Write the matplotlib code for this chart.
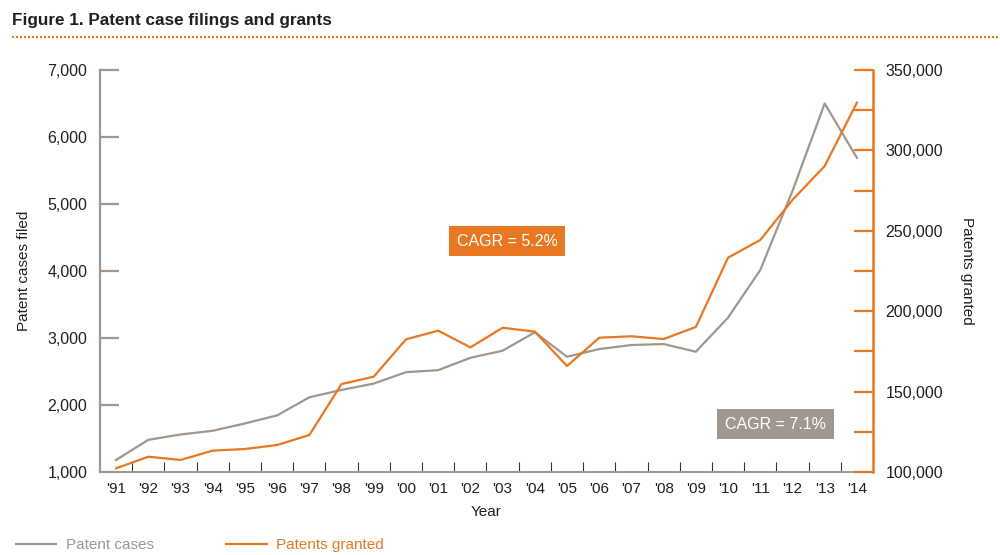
import matplotlib
matplotlib.use("Agg")
import matplotlib.pyplot as plt
from matplotlib.lines import Line2D

plt.rcParams['font.family'] = ['Liberation Sans', 'DejaVu Sans']

years = ["'91", "'92", "'93", "'94", "'95", "'96", "'97", "'98", "'99", "'00", "'01", "'02",
         "'03", "'04", "'05", "'06", "'07", "'08", "'09", "'10", "'11", "'12", "'13", "'14"]
cases_filed = [1180, 1480, 1560, 1615, 1725, 1845, 2115, 2225, 2320, 2490, 2520, 2705,
               2810, 3085, 2720, 2835, 2895, 2910, 2795, 3305, 4015, 5195, 6500, 5690]
patents_granted = [102300, 109500, 107500, 113300, 114300, 116800, 123000, 154700, 159300,
                   182500, 187900, 177500, 189700, 187300, 165900, 183500, 184400, 182700,
                   190200, 233300, 244300, 269200, 290300, 329700]
left_ticks = [1000, 2000, 3000, 4000, 5000, 6000, 7000]
right_ticks = [100000, 125000, 150000, 175000, 200000, 225000, 250000, 275000, 300000, 325000, 350000]
cagr_cases = "CAGR = 7.1%"
cagr_grants = "CAGR = 5.2%"

GRAY = '#a0978f'
ORANGE = '#e87722'
DARK = '#231f20'

fig = plt.figure(figsize=(10, 5.55), dpi=100)
ax = fig.add_axes([0.100, 1 - 472 / 555, 0.773, 402 / 555])
ax2 = ax.twinx()

x = list(range(len(years)))
ax.plot(x, cases_filed, color=GRAY, lw=1.6, zorder=3)
ax2.plot(x, patents_granted, color=ORANGE, lw=1.6, zorder=3)

ax.set_xlim(-0.5, len(years) - 0.5)
ax.set_ylim(1000, 7000)
ax2.set_ylim(100000, 350000)

# spines
for s in ['top', 'right']:
    ax.spines[s].set_visible(False)
ax.spines['left'].set_color(GRAY)
ax.spines['left'].set_linewidth(1.6)
ax.spines['bottom'].set_color(GRAY)
ax.spines['bottom'].set_linewidth(1.4)
for s in ['top', 'left', 'bottom']:
    ax2.spines[s].set_visible(False)
ax2.spines['right'].set_color(ORANGE)
ax2.spines['right'].set_linewidth(1.8)

# x ticks
ax.set_xticks(x)
ax.set_xticklabels(years, fontsize=11, color=DARK)
ax.tick_params(axis='x', which='major', length=0, pad=7.5)
ax.set_xticks([i + 0.5 for i in x[:-1]], minor=True)
ax.tick_params(axis='x', which='minor', direction='in', length=7.5, width=0.8, color='#333333')

# left y ticks
ax.set_yticks(left_ticks)
ax.set_yticklabels([f"{v:,}" for v in left_ticks], fontsize=11.5, color=DARK)
ax.tick_params(axis='y', direction='in', length=14, width=1.6, color=GRAY, pad=9)

# right y ticks
ax2.set_yticks(right_ticks)
ax2.set_yticklabels([f"{v:,}" if v % 50000 == 0 else "" for v in right_ticks],
                    fontsize=11.5, color=DARK)
ax2.tick_params(axis='y', direction='in', length=14, width=1.6, color=ORANGE, pad=9)

ax.set_ylabel("Patent cases filed", fontsize=11, color=DARK, labelpad=12)
ax2.set_ylabel("Patents granted", fontsize=11, color=DARK, rotation=270, labelpad=22)
ax.set_xlabel("Year", fontsize=11, color=DARK, labelpad=6)

# CAGR boxes
ax.text(0.5265, 0.5746, cagr_grants, transform=ax.transAxes, ha='center', va='center',
        fontsize=11.5, color='white',
        bbox=dict(boxstyle='square,pad=0.5', fc=ORANGE, ec='none'))
ax.text(0.8738, 0.1194, cagr_cases, transform=ax.transAxes, ha='center', va='center',
        fontsize=11.5, color='white',
        bbox=dict(boxstyle='square,pad=0.5', fc=GRAY, ec='none'))

# title
fig.text(0.012, 1 - 21 / 555, "Figure 1. Patent case filings and grants", fontsize=12.3,
         fontweight='bold', color=DARK, ha='left', va='center')
fig.add_artist(Line2D([0.012, 1.0], [1 - 37 / 555, 1 - 37 / 555], transform=fig.transFigure,
                      color=ORANGE, lw=1.6, ls=(0, (0.9, 0.9))))

# legend
handles = [Line2D([], [], color=GRAY, lw=1.6), Line2D([], [], color=ORANGE, lw=1.6)]
fig.legend(handles, ["Patent cases", "Patents granted"], loc='center left',
           bbox_to_anchor=(0.016, 1 - 545 / 555), ncol=2, frameon=False, fontsize=11,
           handlelength=2.65, handletextpad=0.6, columnspacing=4.75, borderpad=0,
           borderaxespad=0, labelcolor='linecolor')

fig.savefig("out.png", dpi=100)
